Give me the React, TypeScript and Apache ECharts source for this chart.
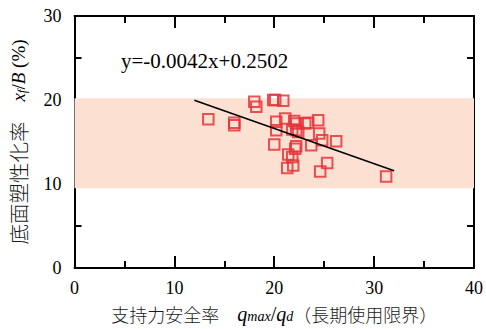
import React, { useEffect, useRef } from "react";
import * as echarts from "echarts";

const safetyFactor = [
  13.4, 16.0, 16.0, 18.0, 18.2, 19.9, 20.1, 20.9, 20.2, 21.1, 22.0, 22.2,
  23.1, 23.4, 24.4, 20.2, 21.8, 22.2, 22.4, 24.5, 24.8, 26.2, 23.7, 20.0,
  22.2, 22.1, 21.4, 21.8, 21.3, 21.9, 25.3, 24.6, 31.2,
];
const plasticRatio = [
  17.7, 17.3, 17.0, 19.8, 19.2, 20.0, 20.0, 19.9, 17.4, 17.8, 17.5, 17.2,
  17.2, 17.3, 17.6, 16.4, 16.5, 16.4, 16.2, 16.0, 15.2, 15.1, 14.6, 14.7,
  14.5, 14.2, 13.5, 13.2, 11.9, 12.2, 12.5, 11.5, 10.9,
];
const trendX = [12, 32];
const trendY = [19.98, 11.58];
const bandRange = [9.5, 20.2];
const xRange = [0, 40];
const yRange = [0, 30];
const equationText = "y=-0.0042x+0.2502";

const SERIF = "'Liberation Serif', 'Times New Roman', 'Noto Sans CJK JP', serif";
const CJK = "'Noto Sans CJK JP', 'Liberation Serif', sans-serif";

export default function App() {
  const ref = useRef<HTMLDivElement>(null);
  useEffect(() => {
    if (!ref.current) return;
    const chart = echarts.init(ref.current, null, { renderer: "svg" });
    const axisCommon = (show: boolean) => ({
      type: "value" as const,
      axisLine: { show: true, onZero: false, lineStyle: { color: "#000", width: 2 } },
      axisTick: { show: true, inside: true, length: 12, lineStyle: { color: "#000", width: 2 } },
      minorTick: { show: true, splitNumber: 2, length: 7, lineStyle: { color: "#000", width: 2 } },
      splitLine: { show: false },
      minorSplitLine: { show: false },
      axisLabel: {
        show,
        color: "#000",
        fontSize: 18,
        fontFamily: SERIF,
      },
    });
    const xBase = axisCommon(true);
    const yBase = axisCommon(true);
    const cjkStyle = (size: number) => ({
      fontSize: size,
      fontFamily: CJK,
      fontWeight: 300,
      color: "#1a1a1a",
    });
    const option: any = {
      animation: false,
      backgroundColor: "#fff",
      grid: { left: 73, right: 10, top: 16, bottom: 57, containLabel: false },
      xAxis: [
        {
          ...xBase,
          position: "bottom",
          min: xRange[0],
          max: xRange[1],
          interval: 10,
          axisLabel: { ...xBase.axisLabel, margin: 11 },
          name:
            "{c|支持力安全率\u3000}{i|q}{sub|max}{n|/}{i|q}{sub|d}{c|（長期使用限界）}",
          nameLocation: "middle",
          nameGap: 35,
          nameTextStyle: {
            rich: {
              c: cjkStyle(18),
              i: { fontSize: 20, fontFamily: SERIF, fontStyle: "italic", color: "#000" },
              sub: {
                fontSize: 14,
                fontFamily: SERIF,
                fontStyle: "italic",
                color: "#000",
                verticalAlign: "bottom",
                padding: [7, 0, 0, 0],
              },
              n: { fontSize: 20, fontFamily: SERIF, color: "#000" },
            },
          },
        },
        {
          ...axisCommon(false),
          position: "top",
          min: xRange[0],
          max: xRange[1],
          interval: 10,
        },
      ],
      yAxis: [
        {
          ...yBase,
          position: "left",
          min: yRange[0],
          max: yRange[1],
          interval: 10,
          axisLabel: { ...yBase.axisLabel, margin: 13 },
          name: "{c|底面塑性化率}{sp|\u3000}{i|x}{sub|f}{n|/}{i|B}{n| (%)}",
          nameLocation: "middle",
          nameRotate: 90,
          nameGap: 46,
          nameTextStyle: {
            rich: {
              c: cjkStyle(20.5),
              sp: { fontSize: 20, fontFamily: CJK, color: "#000" },
              i: { fontSize: 19, fontFamily: SERIF, fontStyle: "italic", color: "#000" },
              sub: {
                fontSize: 13,
                fontFamily: SERIF,
                fontStyle: "italic",
                color: "#000",
                verticalAlign: "bottom",
                padding: [6, 0, 0, 0],
              },
              n: { fontSize: 19, fontFamily: SERIF, color: "#000" },
            },
          },
        },
        {
          ...axisCommon(false),
          position: "right",
          min: yRange[0],
          max: yRange[1],
          interval: 10,
        },
      ],
      graphic: [
        {
          type: "text",
          x: 121,
          y: 61,
          z: 10,
          style: {
            text: equationText,
            fontSize: 21,
            fontFamily: SERIF,
            fill: "#000",
            verticalAlign: "middle",
          },
        },
      ],
      series: [
        {
          type: "line",
          data: [],
          z: 1,
          silent: true,
          markArea: {
            silent: true,
            itemStyle: { color: "#fce1d3", opacity: 1 },
            data: [
              [
                { xAxis: xRange[0], yAxis: bandRange[0] },
                { xAxis: xRange[1], yAxis: bandRange[1] },
              ],
            ],
          },
        },
        {
          type: "scatter",
          z: 3,
          symbol: "rect",
          symbolSize: 10.5,
          itemStyle: {
            color: "rgba(0,0,0,0)",
            borderColor: "#e5343a",
            borderWidth: 2,
            opacity: 0.85,
          },
          data: safetyFactor.map((x, i) => [x, plasticRatio[i]]),
        },
        {
          type: "line",
          z: 4,
          showSymbol: false,
          symbol: "none",
          lineStyle: { color: "#000", width: 1.5 },
          data: trendX.map((x, i) => [x, trendY[i]]),
        },
      ],
    };
    chart.setOption(option);
    return () => chart.dispose();
  }, []);
  return (
    <div
      ref={ref}
      style={{ position: "fixed", left: 0, top: 0, width: 486, height: 329 }}
    />
  );
}
